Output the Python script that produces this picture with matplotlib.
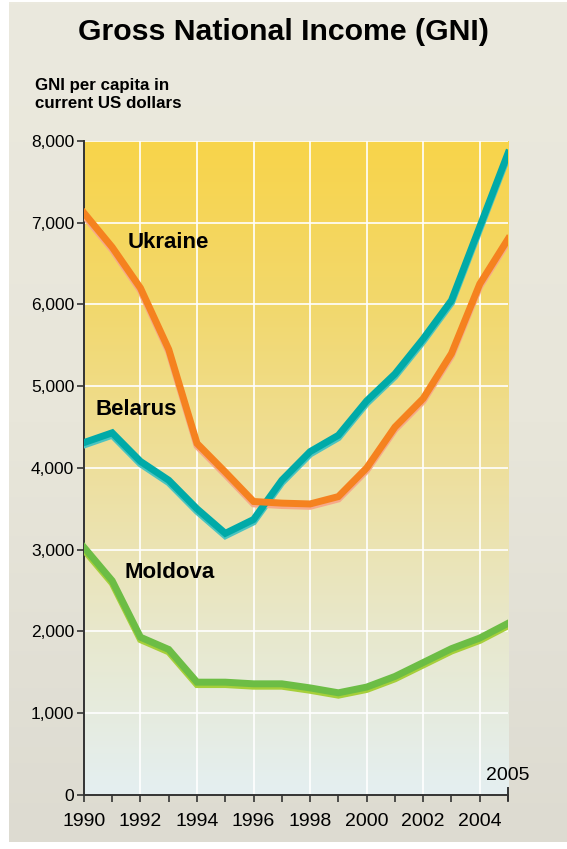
import matplotlib.pyplot as plt
import matplotlib.transforms as mtransforms
from matplotlib.colors import LinearSegmentedColormap
from matplotlib.ticker import FixedLocator, FuncFormatter
import numpy as np

# GNI per capita, current US dollars
years = list(range(1990, 2006))
ukraine = [7120, 6700, 6200, 5450, 4300, 3950, 3590, 3570, 3560, 3650,
           4000, 4500, 4850, 5400, 6250, 6800]
belarus = [4310, 4430, 4080, 3850, 3500, 3200, 3370, 3850, 4200, 4400,
           4820, 5150, 5580, 6050, 6950, 7850]
moldova = [3030, 2620, 1930, 1780, 1380, 1380, 1360, 1360, 1310, 1250,
           1320, 1450, 1620, 1790, 1920, 2100]

title = "Gross National Income (GNI)"
ylabel = "GNI per capita in\ncurrent US dollars"
yticks = list(range(0, 8001, 1000))
xlabel_years = list(range(1990, 2005, 2))

plt.rcParams['font.family'] = ['Liberation Sans', 'DejaVu Sans']

fig = plt.figure(figsize=(5.67, 8.49), dpi=100)
fig.patch.set_facecolor('white')

# beige panel behind everything, slight vertical gradient
bg = fig.add_axes([0.015, 0.008, 0.985, 0.99], zorder=-10)
bg_cmap = LinearSegmentedColormap.from_list('bg', ['#dddbd1', '#e8e6da', '#ebe9de'])
bg.imshow(np.linspace(0, 1, 256).reshape(-1, 1), aspect='auto', cmap=bg_cmap,
          origin='lower', extent=[0, 1, 0, 1])
bg.set_axis_off()

ax = fig.add_axes([0.148, 0.0636, 0.748, 0.7704])
ax.set_xlim(years[0], years[-1])
ax.set_ylim(0, 8000)

# plot area gradient: pale blue at bottom to yellow at top
area_cmap = LinearSegmentedColormap.from_list(
    'area', ['#e4eff1', '#e8e8cc', '#eedf9c', '#f2d86c', '#f8d44a'])
ax.imshow(np.linspace(0, 1, 256).reshape(-1, 1), aspect='auto', cmap=area_cmap,
          origin='lower', extent=[years[0], years[-1], 0, 8000], zorder=0)

# even years carry labels and grid lines, odd years only a tick
ax.xaxis.set_major_locator(FixedLocator(xlabel_years))
ax.xaxis.set_minor_locator(FixedLocator([y for y in years if y % 2 == 1]))
ax.set_yticks(yticks)
ax.yaxis.set_major_formatter(FuncFormatter(lambda v, p: f"{int(v):,}"))
ax.grid(True, which='major', color='white', lw=1.2, zorder=1)

ax.tick_params(axis='both', which='both', direction='out', length=5, width=1.2,
               color='#333333')
ax.tick_params(axis='x', labelsize=14, pad=8)
ax.tick_params(axis='y', labelsize=12.5, pad=2)
for s in ['top', 'right']:
    ax.spines[s].set_visible(False)
for s in ['left', 'bottom']:
    ax.spines[s].set_color('#333333')
    ax.spines[s].set_linewidth(1.4)
# end tick at 2005 pokes up into the plot
ax.axvline(years[-1], ymin=-0.008, ymax=0.01, color='#333333', lw=1.4, clip_on=False, zorder=6)

series = [
    (belarus, '#00aaa8', '#4cc4c0'),
    (ukraine, '#f5821f', '#f6a98a'),
    (moldova, '#6cbd45', '#a6cf3a'),
]
shadow = mtransforms.offset_copy(ax.transData, fig=fig, x=0, y=-2.4, units='dots')
for vals, col, light in series:
    ax.plot(years, vals, color=light, lw=5, transform=shadow, zorder=3,
            solid_joinstyle='miter')
for vals, col, light in series:
    ax.plot(years, vals, color=col, lw=5, zorder=4, solid_joinstyle='miter')

lab_kw = dict(fontsize=16, fontweight='bold', ha='left', va='center', zorder=5)
ax.text(1991.55, 6760, "Ukraine", **lab_kw)
ax.text(1990.42, 4710, "Belarus", **lab_kw)
ax.text(1991.45, 2720, "Moldova", **lab_kw)

ax.text(years[-1], 130, "2005", fontsize=14, ha='center', va='bottom', zorder=5)

fig.text(0.5, 0.962, title, fontsize=21.8, fontweight='bold', ha='center', va='center')
fig.text(0.062, 0.889, ylabel, fontsize=12.2, fontweight='bold', ha='left', va='center',
         linespacing=1.25)

fig.savefig('out.png', dpi=100, facecolor=fig.get_facecolor())
